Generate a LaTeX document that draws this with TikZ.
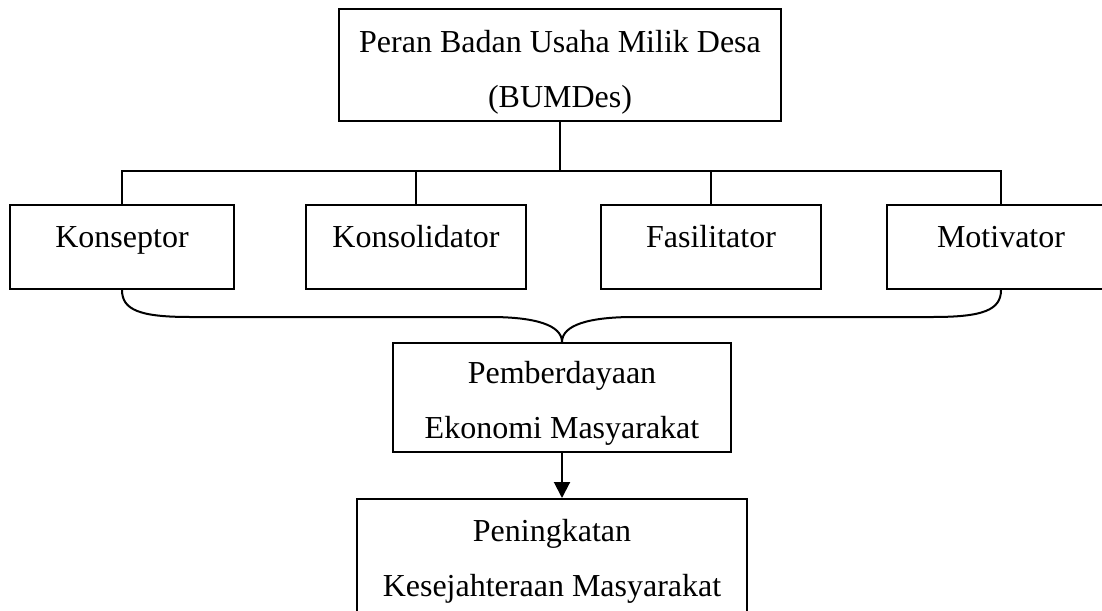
\documentclass[tikz,border=0pt]{standalone}
\usepackage{fontspec}
\setmainfont{Liberation Serif}
\usepackage{tikz}
\usetikzlibrary{arrows.meta}

\begin{document}
\begin{tikzpicture}[x=0.5pt, y=-0.5pt, line width=1pt,
  kotak/.style={draw, align=center, inner sep=0pt, font=\fontsize{16}{27.5}\selectfont},
  peran/.style={draw, inner sep=0pt, text height=21pt, text depth=21pt, font=\fontsize{16}{19}\selectfont}]
\useasboundingbox (0,0) rectangle (1102,610);
\clip (0,0) rectangle (1102,610);
\fill[white] (0,0) rectangle (1102,610);
\node[kotak, minimum width=221pt, text height=49pt, text depth=7pt] (bumdes) at (560,65) {Peran Badan Usaha Milik Desa\\(BUMDes)};
\node[peran, minimum width=112pt] (kons) at (122,247) {Konseptor};
\node[peran, minimum width=110pt] (konsol) at (416,247) {Konsolidator};
\node[peran, minimum width=110pt] (fasil) at (711,247) {Fasilitator};
\node[peran, minimum width=114pt] (motiv) at (1001,247) {Motivator};
\node[kotak, minimum width=169pt, text height=47.5pt, text depth=7pt] (pemb) at (562,397.5) {Pemberdayaan\\Ekonomi Masyarakat};
\node[kotak, anchor=north, minimum width=195pt, text height=48.5pt, text depth=9.5pt] (pening) at (552,498) {Peningkatan\\Kesejahteraan Masyarakat};
\coordinate (bar) at (560,171);
\coordinate (tip) at (pemb.north);
\draw (bumdes.south) -- (bar);
\foreach \n in {kons,konsol,fasil,motiv} \draw (\n.north) |- (bar);
\draw (kons.south) .. controls (122,310) and (140,317) .. (190,317) -- (490,317)
  .. controls (535,317) and (562,325) .. (tip);
\draw (motiv.south) .. controls (1001,310) and (983,317) .. (933,317) -- (634,317)
  .. controls (589,317) and (562,325) .. (tip);
\draw[-{Triangle[length=8pt,width=8pt]}] (pemb.south) -- (pemb.south |- pening.north);
\end{tikzpicture}
\end{document}
